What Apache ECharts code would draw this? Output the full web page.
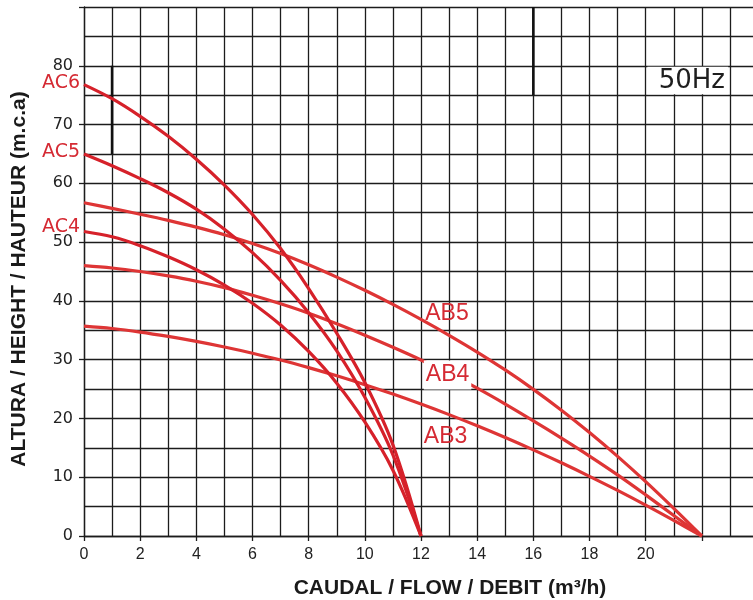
<!DOCTYPE html>
<html>
<head>
<meta charset="utf-8">
<script src="https://cdn.jsdelivr.net/npm/echarts/dist/echarts.min.js"></script>
<style>
  html, body { margin: 0; padding: 0; background: #fff; }
  #chart { width: 753px; height: 600px; }
</style>
</head>
<body>
<div id="chart"></div>
<script>
// Flow (m3/h) sample points
const flowAC = [0, 1, 2, 3, 4, 5, 6, 7, 8, 9, 10, 11, 12];
const flowAB = [0, 1, 2, 3, 4, 5, 6, 7, 8, 9, 10, 11, 12, 13, 14, 15, 16, 17, 18, 19, 20, 21, 22];

// Head (m.c.a) values
const ac6 = [76.8, 74.4, 71.4, 68.0, 64.1, 59.7, 54.7, 48.9, 42.1, 34.5, 26.1, 15.5, 0];
const ac5 = [65.0, 63.0, 60.8, 58.4, 55.6, 52.2, 48.2, 43.5, 38.0, 31.5, 23.6, 13.8, 0];
const ac4 = [51.8, 50.9, 49.4, 47.5, 45.3, 42.7, 39.6, 35.9, 31.4, 26.0, 19.4, 11.2, 0];

const ab5 = [56.7, 55.75, 54.75, 53.7, 52.55, 51.25, 49.75, 48.05, 46.15, 44.05, 41.8, 39.4, 36.85, 34.15, 31.3, 28.25, 24.95, 21.4, 17.6, 13.55, 9.25, 4.7, 0];
const ab4 = [46.0, 45.6, 45.0, 44.25, 43.35, 42.25, 40.95, 39.5, 37.9, 36.1, 34.15, 32.1, 29.95, 27.65, 25.15, 22.45, 19.6, 16.65, 13.6, 10.4, 7.0, 3.5, 0];
const ab3 = [35.7, 35.3, 34.7, 33.95, 33.1, 32.15, 31.1, 29.95, 28.65, 27.25, 25.75, 24.15, 22.45, 20.65, 18.75, 16.75, 14.65, 12.45, 10.15, 7.75, 5.25, 2.65, 0];

// Short heavy strokes on the grid (flow, head)
const strokeA = [[1, 80], [1, 65]];
const strokeB = [[16, 90], [16, 75]];

const xTitle = 'CAUDAL / FLOW / DEBIT (m³/h)';
const yTitle = 'ALTURA / HEIGHT / HAUTEUR (m.c.a)';

const gridColor = '#1c1c1c';
const acColor = '#d6212a';
const abColor = '#de3535';
const labelRed = '#d52a33';

function pairs(xs, ys) { return xs.map((x, i) => [x, ys[i]]); }

function curve(name, xs, ys, color, label) {
  return {
    name: name,
    type: 'line',
    data: pairs(xs, ys),
    showSymbol: false,
    smooth: 0.35,
    lineStyle: { color: color, width: 3.2 },
    z: 3,
    silent: true,
    markPoint: label
  };
}

function acLabel(text, y) {
  return {
    symbol: 'circle', symbolSize: 0, silent: true,
    data: [{ coord: [0, y], value: 0 }],
    label: {
      show: true, position: 'left', distance: 4, formatter: text,
      color: labelRed, fontSize: 19, fontFamily: 'DejaVu Sans'
    }
  };
}

function abLabel(text, x, y, bg) {
  return {
    symbol: 'circle', symbolSize: 0, silent: true,
    data: [{ coord: [x, y], value: 0 }],
    label: {
      show: true, position: 'right', distance: 0, formatter: text,
      color: labelRed, fontSize: 23, fontFamily: 'Liberation Sans',
      backgroundColor: bg ? '#ffffff' : 'transparent',
      padding: bg ? [3, 2, 3, 2] : 0
    }
  };
}

const lineStyle = { color: gridColor, width: 1.3 };

const chart = echarts.init(document.getElementById('chart'), null, { renderer: 'canvas' });
chart.setOption({
  animation: false,
  backgroundColor: '#ffffff',
  grid: { left: 84, right: -5, top: 7, bottom: 64, containLabel: false, outerBoundsMode: 'none' },
  xAxis: {
    type: 'value', min: 0, max: 24, interval: 2,
    axisLine: { show: true, onZero: false, lineStyle: lineStyle },
    axisTick: { show: true, length: 5, lineStyle: lineStyle },
    axisLabel: {
      margin: 11, fontSize: 16, color: '#222', fontFamily: 'Liberation Sans',
      formatter: v => (v <= 20 ? String(v) : '')
    },
    splitLine: { show: true, lineStyle: lineStyle },
    minorTick: { show: false, splitNumber: 2 },
    minorSplitLine: { show: true, lineStyle: lineStyle },
    name: xTitle, nameLocation: 'middle', nameGap: 42,
    nameTextStyle: {
      fontSize: 21, fontWeight: 'bold', color: '#1a1a1a', fontFamily: 'Liberation Sans',
      padding: [0, 0, 0, 58]
    }
  },
  yAxis: {
    type: 'value', min: 0, max: 90, interval: 10,
    axisLine: { show: true, onZero: false, lineStyle: lineStyle },
    axisTick: { show: true, length: 5, lineStyle: lineStyle },
    axisLabel: {
      margin: 11, fontSize: 16, color: '#222', fontFamily: 'DejaVu Sans',
      formatter: v => (v >= 90 ? '' : String(v))
    },
    splitLine: { show: true, lineStyle: lineStyle },
    minorTick: { show: false, splitNumber: 2 },
    minorSplitLine: { show: true, lineStyle: lineStyle },
    name: yTitle, nameLocation: 'middle', nameGap: 54,
    nameTextStyle: {
      fontSize: 21, fontWeight: 'bold', color: '#1a1a1a', fontFamily: 'Liberation Sans',
      padding: [0, 15, 0, 0]
    }
  },
  series: [
    {
      name: 'strokeA', type: 'line', data: strokeA, showSymbol: false, silent: true,
      lineStyle: { color: '#111', width: 2.6 }, z: 2,
      markArea: {
        silent: true,
        itemStyle: { color: '#ffffff' },
        label: {
          show: true, position: 'inside', formatter: '50Hz', offset: [4, 1],
          fontSize: 26, fontFamily: 'DejaVu Sans', color: '#1e1e1e'
        },
        data: [[{ coord: [20.06, 79.85] }, { coord: [22.94, 75.15] }]]
      }
    },
    {
      name: 'strokeB', type: 'line', data: strokeB, showSymbol: false, silent: true,
      lineStyle: { color: '#111', width: 2.6 }, z: 2
    },
    curve('AB5', flowAB, ab5, abColor, abLabel('AB5', 12.15, 37.8, false)),
    curve('AB4', flowAB, ab4, abColor, abLabel('AB4', 12.1, 27.4, true)),
    curve('AB3', flowAB, ab3, abColor, abLabel('AB3', 12.1, 16.9, false)),
    curve('AC6', flowAC, ac6, acColor, acLabel('AC6', 77.1)),
    curve('AC5', flowAC, ac5, acColor, acLabel('AC5', 65.3)),
    curve('AC4', flowAC, ac4, acColor, acLabel('AC4', 52.6))
  ]
});
</script>
</body>
</html>
